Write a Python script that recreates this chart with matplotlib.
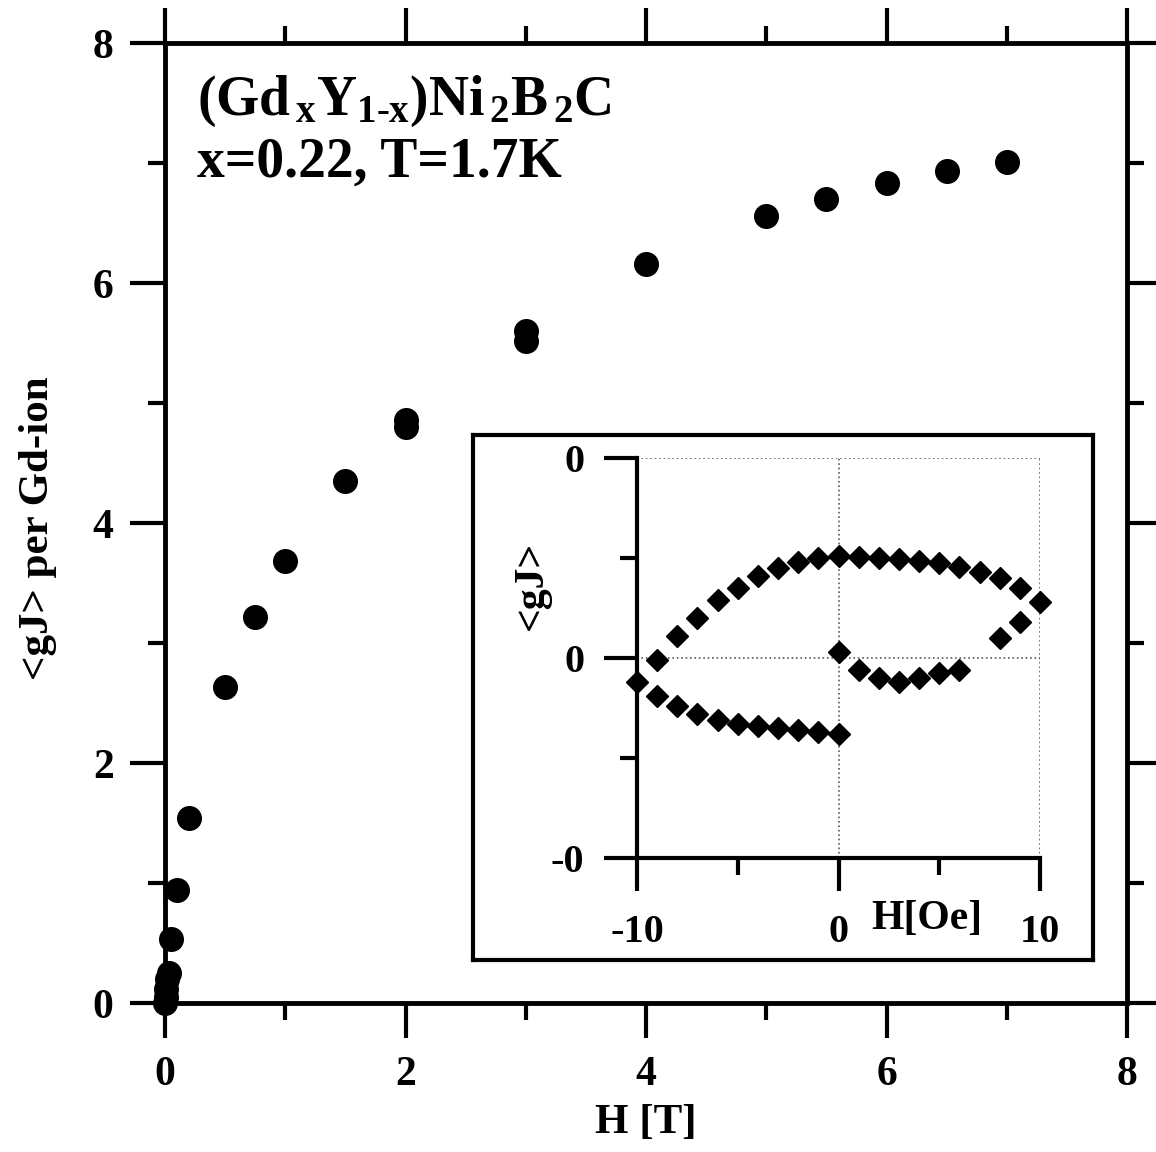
import numpy as np
import matplotlib.pyplot as plt
from matplotlib.ticker import MultipleLocator, FixedLocator, FixedFormatter

plt.rcParams['font.family'] = 'Liberation Serif'
plt.rcParams['font.weight'] = 'bold'
plt.rcParams['axes.unicode_minus'] = False
plt.rcParams['mathtext.fontset'] = 'custom'
plt.rcParams['mathtext.rm'] = 'Liberation Serif:bold'
plt.rcParams['mathtext.it'] = 'Liberation Serif:bold'
plt.rcParams['mathtext.bf'] = 'Liberation Serif:bold'

# main panel: magnetisation curve
field_T = [0.0, 0.005, 0.01, 0.02, 0.03, 0.05, 0.1, 0.2, 0.5, 0.75, 1.0, 1.5,
           2.0, 2.0, 3.0, 3.0, 4.0, 5.0, 5.5, 6.0, 6.5, 7.0]
gj_main = [0.0, 0.05, 0.12, 0.2, 0.25, 0.53, 0.94, 1.54, 2.63, 3.22, 3.68, 4.35,
           4.80, 4.86, 5.52, 5.60, 6.16, 6.56, 6.70, 6.83, 6.93, 7.01]

# inset: hysteresis loop (arbitrary units, labels as printed)
h_up = list(range(-10, 11))
gj_up = [-0.12, -0.01, 0.11, 0.20, 0.29, 0.35, 0.41, 0.45, 0.48, 0.50, 0.51,
         0.505, 0.50, 0.495, 0.485, 0.475, 0.455, 0.43, 0.40, 0.35, 0.28]
h_back = [9, 8]
gj_back = [0.18, 0.10]
h_low = list(range(-9, 1))
gj_low = [-0.19, -0.24, -0.28, -0.31, -0.33, -0.34, -0.35, -0.36, -0.37, -0.38]
h_mid = list(range(0, 7))
gj_mid = [0.03, -0.06, -0.10, -0.12, -0.10, -0.075, -0.06]

inset_ytick_pos = [-1, 0, 1]
inset_ytick_lab = ['-0', '0', '0']

W, H = 1156, 1152
fig = plt.figure(figsize=(W / 100, H / 100), dpi=100)

ax = fig.add_axes([165 / W, 1 - 1003 / H, (1127 - 165) / W, (1003 - 43) / H])
ax.plot(field_T, gj_main, 'o', color='black', ms=17, clip_on=False, zorder=5)
ax.set_xlim(0, 8)
ax.set_ylim(0, 8)
ax.xaxis.set_major_locator(MultipleLocator(2))
ax.xaxis.set_minor_locator(MultipleLocator(1))
ax.yaxis.set_major_locator(MultipleLocator(2))
ax.yaxis.set_minor_locator(MultipleLocator(1))
ax.tick_params(which='both', direction='out', top=True, right=True, width=3,
               labelsize=30)
ax.tick_params(which='major', length=25)
ax.tick_params(which='minor', length=12)
ax.tick_params(axis='y', which='major', pad=12)
ax.tick_params(axis='x', which='major', pad=13)
for s in ax.spines.values():
    s.set_linewidth(3.5)
ax.set_xlabel('H [T]', fontsize=31, fontweight='bold')
ax.set_ylabel('<gJ> per Gd-ion', fontsize=31, fontweight='bold')
ax.xaxis.set_label_coords(0.5, -0.105)
ax.yaxis.set_label_coords(-0.112, 0.495)

fig.text(197 / W, 1 - 115 / H, r'$\mathrm{(Gd_{\,x}Y_{1\text{-}x})Ni_{\,2}B_{\,2}C}$',
         fontsize=40, va='baseline', ha='left')
fig.text(197 / W, 1 - 177 / H, 'x=0.22, T=1.7K', fontsize=40, fontweight='bold',
         va='baseline', ha='left')

# inset frame
fr = fig.add_axes([473 / W, 1 - 960 / H, 620 / W, 525 / H])
fr.set_xticks([])
fr.set_yticks([])
for s in fr.spines.values():
    s.set_linewidth(3)

ins = fig.add_axes([637 / W, 1 - 858 / H, 403 / W, 400 / H])
ins.set_facecolor('none')
for hx, gy in [(h_up, gj_up), (h_back, gj_back), (h_low, gj_low), (h_mid, gj_mid)]:
    ins.plot(hx, gy, 'D', color='black', ms=11.5, clip_on=False, zorder=5)
ins.set_xlim(-10, 10)
ins.set_ylim(-1, 1)
ins.xaxis.set_major_locator(FixedLocator([-10, 0, 10]))
ins.xaxis.set_minor_locator(FixedLocator([-5, 5]))
ins.yaxis.set_major_locator(FixedLocator(inset_ytick_pos))
ins.yaxis.set_major_formatter(FixedFormatter(inset_ytick_lab))
ins.yaxis.set_minor_locator(FixedLocator([-0.5, 0.5]))
ins.grid(True, which='major', ls=':', color='0.35', lw=1.2)
ins.spines['top'].set_visible(False)
ins.spines['right'].set_visible(False)
ins.spines['left'].set_linewidth(3)
ins.spines['bottom'].set_linewidth(3)
ins.tick_params(which='both', direction='out', width=3, labelsize=29)
ins.tick_params(which='major', length=24)
ins.tick_params(which='minor', length=12)
ins.tick_params(axis='y', which='major', pad=14)
ins.tick_params(axis='x', which='major', pad=16)

fig.text(927 / W, 1 - 919 / H, 'H[Oe]', fontsize=30, fontweight='bold',
         ha='center', va='center')
fig.text(532 / W, 1 - 585 / H, '<gJ>', fontsize=30, fontweight='bold',
         rotation=90, ha='center', va='center')

fig.savefig('out.png', dpi=100)
